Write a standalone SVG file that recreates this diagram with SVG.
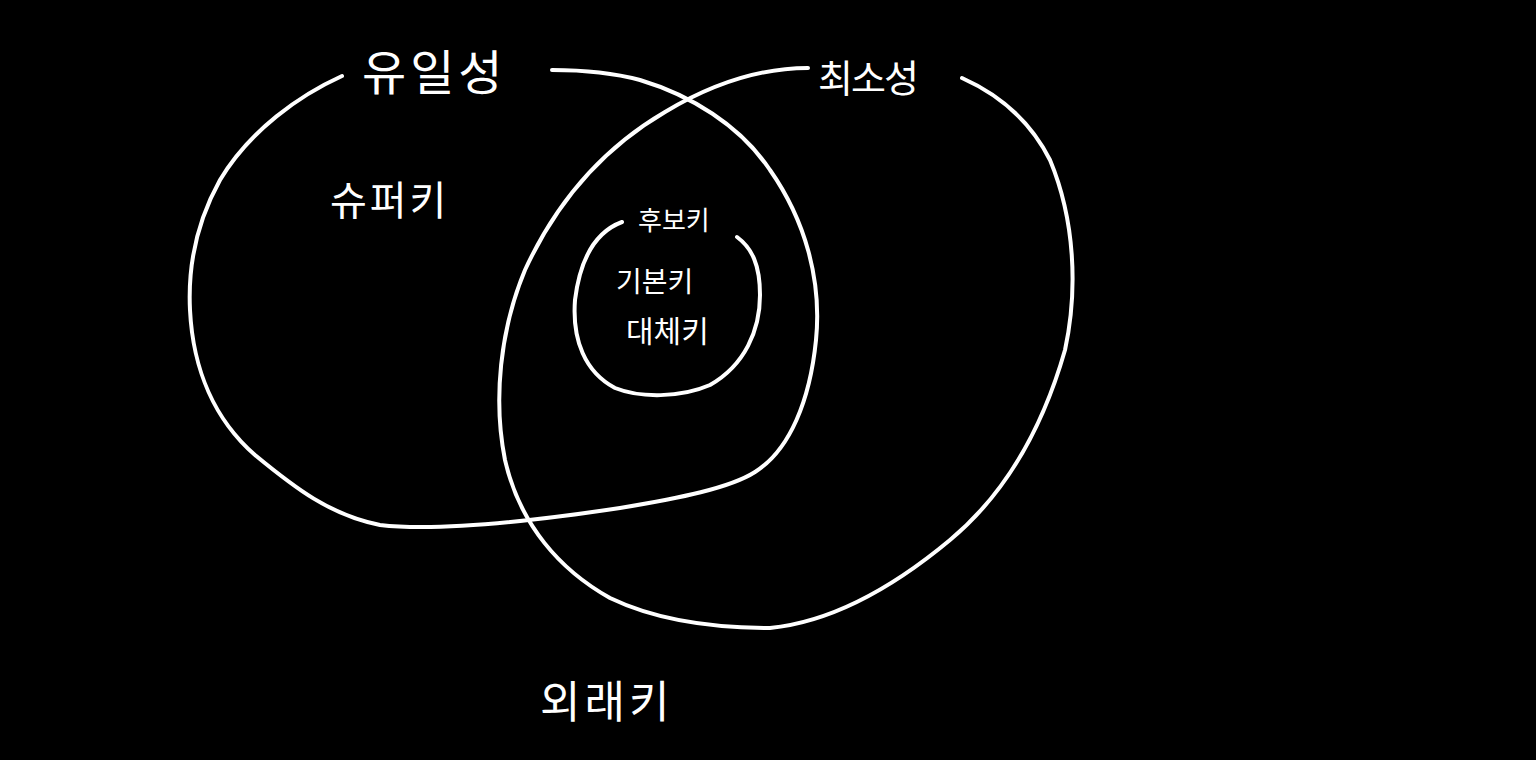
<svg xmlns="http://www.w3.org/2000/svg" width="1536" height="760" viewBox="0 0 1536 760">
<style>
.c{fill:none;stroke:#fff;stroke-width:4;stroke-linecap:round;stroke-linejoin:round}
.t{fill:#fff;font-family:"Noto Sans CJK KR","Noto Sans",sans-serif;font-weight:400}
</style>
<rect width="1536" height="760" fill="#000"/>
<g id="connectors">
<path id="set-unique" class="c" d="M342,76 C300,95 250,130 220,180 C195,225 188,270 190,310 C193,370 215,420 255,455 C295,488 330,515 380,525 C440,532 540,520 620,508 C680,498 730,488 755,472 C790,450 810,400 816,340 C822,280 805,220 770,170 C740,125 690,95 640,80 C610,72 580,70 552,70"/>
<path id="set-minimal" class="c" d="M808,68 C760,68 710,85 665,112 C600,150 555,205 525,270 C500,330 493,400 505,460 C520,525 560,570 610,598 C660,622 720,628 770,628 C830,622 890,590 950,540 C1010,490 1045,420 1065,350 C1078,290 1075,220 1050,160 C1030,120 1000,95 962,78"/>
<path id="set-candidate" class="c" d="M622,222 C595,232 580,260 575,300 C572,340 585,372 615,388 C640,398 680,398 710,385 C745,365 760,330 760,295 C760,265 752,248 737,237"/>
</g>
<g id="label-unique"><text class="t" x="362" y="90" font-size="48" letter-spacing="4">유일성</text></g>
<g id="label-minimal"><text class="t" x="818" y="92" font-size="38" letter-spacing="-2">최소성</text></g>
<g id="label-super"><text class="t" x="330" y="215" font-size="40" letter-spacing="3">슈퍼키</text></g>
<g id="label-candidate"><text class="t" x="638" y="230" font-size="26">후보키</text></g>
<g id="label-primary"><text class="t" x="616" y="292" font-size="28">기본키</text></g>
<g id="label-alternate"><text class="t" x="626" y="342" font-size="30">대체키</text></g>
<g id="label-foreign"><text class="t" x="540" y="718" font-size="44" letter-spacing="4">외래키</text></g>
</svg>
